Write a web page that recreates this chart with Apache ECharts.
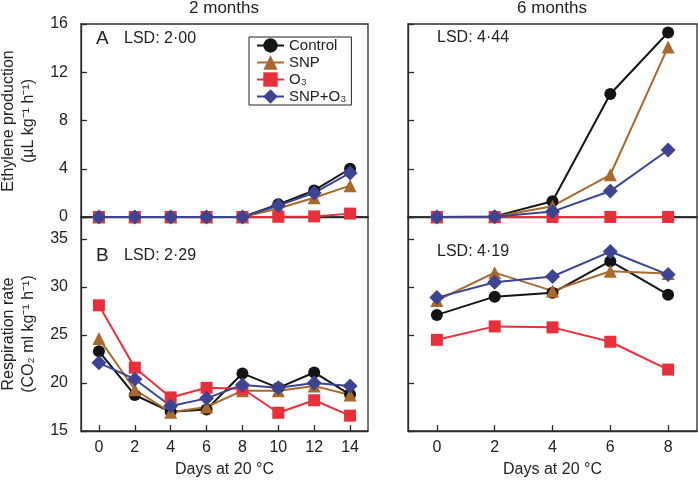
<!DOCTYPE html>
<html>
<head>
<meta charset="utf-8">
<script src="https://cdn.jsdelivr.net/npm/echarts@6/dist/echarts.min.js"></script>
<style>
  html, body { margin: 0; padding: 0; background: #fff; }
  #chart { width: 698px; height: 481px; }
</style>
</head>
<body>
<div id="chart"></div>
<script>
  // days at 20 °C
  var days2 = ['0', '2', '4', '6', '8', '10', '12', '14'];
  var days6 = ['0', '2', '4', '6', '8'];

  // A: ethylene production, 2 months
  var eth2Control = [0, 0, 0, 0, 0, 1.05, 2.2, 4.0];
  var eth2SNP     = [0, 0, 0, 0, 0, 0.7, 1.6, 2.6];
  var eth2O3      = [0, 0, 0, 0, 0, 0.02, 0.05, 0.28];
  var eth2SNPO3   = [0, 0, 0, 0, 0, 0.95, 2.0, 3.65];
  // A: ethylene production, 6 months
  var eth6Control = [0, 0.05, 1.3, 10.2, 15.3];
  var eth6SNP     = [0, 0.02, 0.9, 3.5, 14.1];
  var eth6O3      = [0, 0, 0, 0, 0];
  var eth6SNPO3   = [0, 0.03, 0.45, 2.15, 5.55];

  // B: respiration rate, 2 months
  var res2Control = [23.3, 18.75, 17.0, 17.25, 21.0, 19.5, 21.1, 18.8];
  var res2SNP     = [24.65, 19.3, 16.95, 17.5, 19.2, 19.2, 19.7, 18.75];
  var res2O3      = [28.1, 21.6, 18.5, 19.5, 19.4, 16.9, 18.2, 16.6];
  var res2SNPO3   = [22.1, 20.4, 17.6, 18.4, 19.8, 19.5, 20.0, 19.7];
  // B: respiration rate, 6 months
  var res6Control = [27.1, 29.0, 29.4, 32.7, 29.2];
  var res6SNP     = [28.6, 31.5, 29.6, 31.65, 31.4];
  var res6O3      = [24.5, 25.9, 25.8, 24.3, 21.4];
  var res6SNPO3   = [28.9, 30.5, 31.1, 33.7, 31.3];

  var FONT = '"Liberation Sans", Arial, Helvetica, sans-serif';
  var AXIS = '#2b2b2b';

  var looks = {
    'Control': { color: '#141414', symbol: 'circle',   size: 12 },
    'SNP':     { color: '#a8692f', symbol: 'triangle', size: 13 },
    'O₃':      { color: '#e8303c', symbol: 'rect',     size: 12 },
    'SNP+O₃':  { color: '#3d4592', symbol: 'diamond',  size: 15 }
  };

  var chart = echarts.init(document.getElementById('chart'));

  function line(name, data, idx) {
    var s = looks[name];
    return {
      name: name,
      type: 'line',
      xAxisIndex: idx,
      yAxisIndex: idx,
      data: data,
      color: s.color,
      symbol: s.symbol,
      symbolSize: s.size,
      showAllSymbol: true,
      lineStyle: { width: 2, color: s.color },
      itemStyle: { color: s.color },
      animation: false
    };
  }

  function xAx(idx, cats, bottom) {
    return {
      type: 'category',
      gridIndex: idx,
      data: cats,
      boundaryGap: true,
      axisLine: { show: true, onZero: false, lineStyle: { color: AXIS, width: 1.3 } },
      axisTick: { show: bottom, inside: true, length: 6, alignWithLabel: true, lineStyle: { color: AXIS, width: 1.3 } },
      axisLabel: { show: bottom, margin: 9, color: '#222', fontSize: 16, fontFamily: FONT },
      splitLine: { show: false },
      name: bottom ? 'Days at 20 °C' : '',
      nameLocation: 'middle',
      nameGap: 31,
      nameTextStyle: { color: '#222', fontSize: 16, fontFamily: FONT }
    };
  }

  function yAx(idx, min, max, interval, labels) {
    return {
      type: 'value',
      gridIndex: idx,
      min: min,
      max: max,
      interval: interval,
      axisLine: { show: true, lineStyle: { color: AXIS, width: 1.3 } },
      axisTick: { show: true, inside: true, length: 6, lineStyle: { color: AXIS, width: 1.3 } },
      axisLabel: {
        show: labels, margin: 13, color: '#222', fontSize: 16, fontFamily: FONT,
        formatter: function (v) { return (v - min) % interval === 0 ? String(v) : ''; }
      },
      splitLine: { show: false }
    };
  }

  function txt(x, y, text, size, align) {
    return {
      type: 'text', x: x, y: y,
      style: { text: text, font: size + 'px ' + FONT, fill: '#222', align: align || 'left', verticalAlign: 'middle' }
    };
  }

  var gridBox = { show: true, borderColor: AXIS, borderWidth: 1.3, backgroundColor: 'transparent' };

  var option = {
    backgroundColor: '#fff',
    animation: false,
    grid: [
      Object.assign({ left: 81, top: 24, width: 287, height: 193 }, gridBox),
      Object.assign({ left: 408, top: 24, width: 289, height: 193 }, gridBox),
      Object.assign({ left: 81, top: 217, width: 287, height: 214 }, gridBox),
      Object.assign({ left: 408, top: 217, width: 289, height: 214 }, gridBox)
    ],
    xAxis: [
      xAx(0, days2, false),
      xAx(1, days6, false),
      xAx(2, days2, true),
      xAx(3, days6, true)
    ],
    yAxis: [
      yAx(0, 0, 16, 4, true),
      yAx(1, 0, 16, 4, false),
      yAx(2, 15, 37.3, 5, true),
      yAx(3, 15, 37.3, 5, false)
    ],
    legend: {
      orient: 'vertical',
      left: 249,
      top: 37,
      padding: [1, 5, 1, 7],
      itemGap: 2,
      itemWidth: 27,
      itemHeight: 18,
      borderColor: '#222',
      borderWidth: 1,
      backgroundColor: '#fff',
      textStyle: { color: '#222', fontSize: 15, fontFamily: FONT },
      data: ['Control', 'SNP', 'O₃', 'SNP+O₃']
    },
    graphic: [
      txt(224, 8, '2 months', 17, 'center'),
      txt(552, 8, '6 months', 17, 'center'),
      txt(96, 39, 'A', 19),
      txt(124, 39, 'LSD: 2·00', 16),
      txt(437, 38, 'LSD: 4·44', 16),
      txt(96, 256, 'B', 19),
      txt(124, 256, 'LSD: 2·29', 16),
      txt(437, 252, 'LSD: 4·19', 16),
      {
        type: 'text', x: 19, y: 121, rotation: Math.PI / 2,
        style: { text: 'Ethylene production\n(µL kg⁻¹ h⁻¹)', font: '16px ' + FONT, fill: '#222',
                 align: 'center', verticalAlign: 'middle', lineHeight: 20 }
      },
      {
        type: 'text', x: 19, y: 334, rotation: Math.PI / 2,
        style: { text: 'Respiration rate\n(CO₂ ml kg⁻¹ h⁻¹)', font: '16px ' + FONT, fill: '#222',
                 align: 'center', verticalAlign: 'middle', lineHeight: 20 }
      }
    ],
    series: [
      line('Control', eth2Control, 0),
      line('SNP', eth2SNP, 0),
      line('O₃', eth2O3, 0),
      line('SNP+O₃', eth2SNPO3, 0),
      line('Control', eth6Control, 1),
      line('SNP', eth6SNP, 1),
      line('O₃', eth6O3, 1),
      line('SNP+O₃', eth6SNPO3, 1),
      line('Control', res2Control, 2),
      line('SNP', res2SNP, 2),
      line('O₃', res2O3, 2),
      line('SNP+O₃', res2SNPO3, 2),
      line('Control', res6Control, 3),
      line('SNP', res6SNP, 3),
      line('O₃', res6O3, 3),
      line('SNP+O₃', res6SNPO3, 3)
    ]
  };

  chart.setOption(option);
</script>
</body>
</html>
